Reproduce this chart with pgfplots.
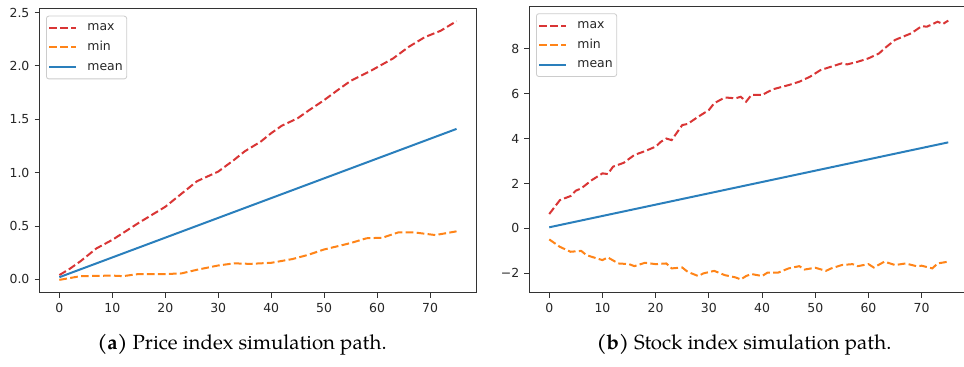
\documentclass[border=0pt]{standalone}
\usepackage{fontspec}
\setmainfont{DejaVu Sans}
\newfontfamily\capfont{texgyrepagella}[Extension=.otf,UprightFont=*-regular,BoldFont=*-bold]
\usepackage{pgfplots}
\pgfplotsset{compat=1.18}
\definecolor{tred}{HTML}{D93535}
\definecolor{torange}{HTML}{FF8418}
\definecolor{tblue}{HTML}{2A7FBC}
\pgfplotsset{
  mpl/.style={
    scale only axis, xmin=-3.75, xmax=78.75, xtick={0,10,...,70},
    xtick pos=bottom, ytick pos=left,
    tick align=outside, major tick length=4.9bp,
    axis line style={black!80, line width=1bp},
    tick style={black!80, line width=1bp},
    every tick label/.append style={font=\fontsize{12.5}{14}\selectfont, text=black!85, inner sep=0pt},
    xticklabel shift=5bp, yticklabel shift=5bp,
    /pgf/number format/assume math mode=true,
    legend cell align=left,
    legend style={at={(0,1)}, anchor=north west, draw=black!20, line width=0.8bp,
      rounded corners=2.5bp, fill=white, font=\fontsize{12.5}{14}\selectfont, text=black!85,
      inner xsep=2bp, inner ysep=2bp, column sep=8bp, row sep=0bp,
      nodes={inner xsep=2bp, inner ysep=3.9bp, text height=9bp, text depth=2.8bp}},
    legend image code/.code={\draw[#1] (0bp,0bp) -- (27bp,0bp);},
    every axis plot/.append style={no markers, line width=2bp},
  },
  maxs/.style={tred, dash pattern=on 7.7bp off 3.3bp},
  mins/.style={torange, dash pattern=on 7.7bp off 3.3bp},
  means/.style={tblue, solid},
}
\begin{document}
\begin{tikzpicture}
\path[use as bounding box] (0,0) rectangle (964bp,367bp);
% ---------------- (a) ----------------
\begin{axis}[mpl, at={(39.5bp,74bp)}, anchor=south west,
  width=436.9bp, height=284bp, ymin=-0.128, ymax=2.534,
  ytick={0,0.5,1,1.5,2,2.5}, yticklabels={0.0,0.5,1.0,1.5,2.0,2.5},
  legend style={xshift=6.5bp, yshift=-6.7bp}]
\addplot[maxs] coordinates {
(0,0.04) (2,0.10) (4,0.17) (7,0.29) (10,0.37) (15,0.53) (20,0.68) (23,0.80)
(26,0.92) (30,1.01) (33,1.12) (35,1.20) (38,1.29) (40,1.37) (42,1.44) (45,1.51)
(47,1.58) (50,1.68) (53,1.79) (55,1.86) (59,1.96) (63,2.07) (66,2.18) (69,2.27)
(72,2.33) (75,2.42)};
\addplot[mins] coordinates {
(0,-0.005) (4,0.03) (10,0.035) (12,0.03) (15,0.05) (20,0.05) (23,0.055) (26,0.09)
(30,0.13) (33,0.15) (36,0.145) (40,0.155) (44,0.19) (47,0.23) (50,0.28) (55,0.34)
(58,0.385) (61,0.39) (64,0.44) (67,0.44) (71,0.415) (75,0.45)};
\addplot[means] coordinates {
(0,0.02) (15,0.298) (30,0.576) (45,0.854) (60,1.132) (75,1.41)};
\legend{max,min,mean}
\end{axis}
% ---------------- (b) ----------------
\begin{axis}[mpl, at={(529.3bp,74bp)}, anchor=south west,
  width=438.9bp, height=287bp, ymin=-2.875, ymax=9.90,
  ytick={-2,0,2,4,6,8}, yticklabels={−2,0,2,4,6,8},
  legend style={xshift=6.7bp, yshift=-7.3bp}]
\addplot[maxs] coordinates {
(0,0.64) (2,1.26) (4,1.44) (5,1.68) (6,1.78) (8,2.15) (10,2.45) (11,2.42)
(12,2.75) (14,2.92) (16,3.27) (18,3.44) (20,3.64) (21,3.86) (22,4.0) (23,3.93)
(25,4.6) (26,4.65) (28,4.97) (30,5.27) (31,5.57) (33,5.83) (35,5.79) (36,5.86)
(37,5.64) (38,5.94) (40,5.94) (42,6.19) (45,6.38) (47,6.53) (49,6.75) (51,7.05)
(53,7.2) (55,7.35) (56,7.3) (58,7.42) (60,7.57) (62,7.79) (63,8.01) (65,8.39)
(68,8.68) (70,9.0) (71,8.98) (73,9.2) (74,9.1) (75,9.25)};
\addplot[mins] coordinates {
(0,-0.49) (2,-0.82) (4,-1.04) (6,-1.0) (7,-1.19) (9,-1.34) (10,-1.41) (11,-1.29)
(13,-1.56) (15,-1.59) (16,-1.68) (18,-1.53) (20,-1.59) (22,-1.56) (23,-1.78) (25,-1.74)
(26,-1.93) (28,-2.12) (29,-2.0) (31,-1.89) (33,-2.08) (35,-2.18) (36,-2.27) (37,-2.12)
(38,-2.03) (40,-2.12) (41,-1.97) (43,-1.97) (45,-1.78) (47,-1.68) (48,-1.83) (50,-1.75)
(52,-1.89) (53,-1.78) (55,-1.63) (57,-1.59) (58,-1.68) (60,-1.59) (61,-1.74) (63,-1.48)
(65,-1.63) (67,-1.56) (69,-1.68) (70,-1.66) (72,-1.78) (73,-1.56) (75,-1.48)};
\addplot[means] coordinates {
(0,0.05) (15,0.806) (30,1.562) (45,2.318) (60,3.074) (75,3.83)};
\legend{max,min,mean}
\end{axis}
\node[anchor=base, font=\capfont\fontsize{20.5}{24}\selectfont] at (242bp,18bp)
  {\textbf{(a)} Price index simulation path.};
\node[anchor=base, font=\capfont\fontsize{20.5}{24}\selectfont] at (744bp,18bp)
  {\textbf{(b)} Stock index simulation path.};
\end{tikzpicture}
\end{document}
